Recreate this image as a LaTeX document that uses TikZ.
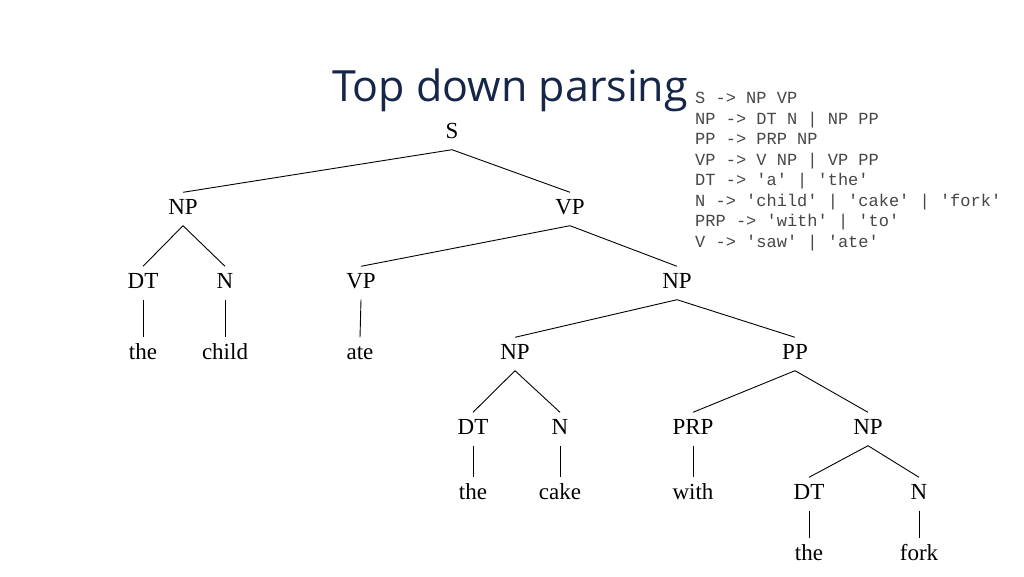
\documentclass[tikz,border=0pt]{standalone}
\usepackage{fontspec}
\setmainfont{Liberation Serif}
\newfontfamily\titlefont{Open Sans}
\newfontfamily\gramfont{Liberation Mono}
\usepackage{tikz}
\definecolor{titlenavy}{RGB}{22,38,72}
\definecolor{gramgray}{RGB}{70,70,70}

\begin{document}
\begin{tikzpicture}[x=1pt,y=-1pt,
    cat/.style={font=\fontsize{23}{26}\selectfont, text height=15pt, text depth=4pt, inner xsep=0pt, inner ysep=7pt},
    edge/.style={line width=0.9pt}
]
\useasboundingbox (0,0) rectangle (1024,576);

\node[font=\titlefont\fontsize{43}{48}\selectfont, text=titlenavy] (title) at (510,90) {Top down parsing};
\node[font=\gramfont\fontsize{17}{20.5}\selectfont, text=gramgray, anchor=north west, align=left, inner sep=0pt] (gram) at (695,92)
  {S -> NP VP\\NP -> DT N | NP PP\\PP -> PRP NP\\VP -> V NP | VP PP\\DT -> 'a' | 'the'\\N -> 'child' | 'cake' | 'fork'\\PRP -> 'with' | 'to'\\V -> 'saw' | 'ate'};

% level 0-1
\node[cat] (s) at (452,133) {S};
\node[cat] (np1) at (183,209) {NP};
\node[cat] (vp1) at (570,209) {VP};
% level 2
\node[cat] (dt1) at (143,283) {DT};
\node[cat] (n1) at (225,283) {N};
\node[cat] (vp2) at (361,283) {VP};
\node[cat] (np2) at (677,283) {NP};
% level 3
\node[cat] (w1) at (143,354) {the};
\node[cat] (w2) at (225,354) {child};
\node[cat] (w3) at (360,354) {ate};
\node[cat] (np3) at (515,354) {NP};
\node[cat] (pp1) at (795,354) {PP};
% level 4
\node[cat] (dt2) at (473,429) {DT};
\node[cat] (n2) at (560,429) {N};
\node[cat] (prp) at (693,429) {PRP};
\node[cat] (np4) at (868,429) {NP};
% level 5
\node[cat] (w4) at (473,494) {the};
\node[cat] (w5) at (560,494) {cake};
\node[cat] (w6) at (693,494) {with};
\node[cat] (dt3) at (809,494) {DT};
\node[cat] (n3) at (919,494) {N};
% level 6
\node[cat] (w7) at (809,555) {the};
\node[cat] (w8) at (919,555) {fork};

\foreach \a/\b in {s/np1, s/vp1, np1/dt1, np1/n1, vp1/vp2, vp1/np2,
    dt1/w1, n1/w2, vp2/w3, np2/np3, np2/pp1, np3/dt2, np3/n2,
    pp1/prp, pp1/np4, dt2/w4, n2/w5, prp/w6, np4/dt3, np4/n3, dt3/w7, n3/w8}
  \draw[edge] (\a.south) -- (\b.north);

\end{tikzpicture}
\end{document}
